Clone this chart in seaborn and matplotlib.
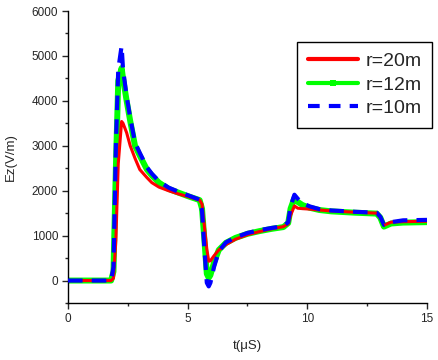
import matplotlib
matplotlib.use("Agg")
import matplotlib.pyplot as plt
from matplotlib.lines import Line2D
import seaborn as sns
import pandas as pd
from matplotlib.ticker import MultipleLocator

t = [0, 1.8, 1.9, 2.0, 2.1, 2.24, 2.3, 2.45, 2.6, 2.8, 3.0, 3.3, 3.5, 3.8, 4.2, 4.6,
     5.0, 5.5, 5.6, 5.7, 5.8, 5.88, 5.95, 6.1, 6.3, 6.6, 7.0, 7.5, 8.0, 8.5, 9.0,
     9.2, 9.3, 9.46, 9.6, 9.8, 10.1, 10.5, 11.0, 12.0, 12.9, 13.05, 13.2, 13.5, 14.0, 15.0]

ez_r20 = [0, 0, 50, 900, 2600, 3540, 3500, 3290, 3000, 2720, 2470, 2290, 2180, 2080, 2000, 1930,
          1870, 1790, 1700, 1200, 700, 430, 440, 550, 680, 800, 920, 1020, 1090, 1150, 1200,
          1260, 1450, 1660, 1610, 1600, 1590, 1570, 1550, 1520, 1500, 1400, 1230, 1300, 1310, 1320]

ez_r12 = [0, 0, 200, 2500, 4450, 4730, 4500, 4000, 3550, 3000, 2780, 2470, 2340, 2180, 2040, 1960,
          1880, 1790, 1600, 900, 150, 60, 120, 400, 680, 840, 950, 1040, 1100, 1150, 1190,
          1280, 1600, 1840, 1750, 1680, 1620, 1570, 1540, 1510, 1490, 1400, 1200, 1270, 1290, 1300]

ez_r10 = [0, 0, 300, 3000, 4700, 5220, 4700, 4100, 3620, 3070, 2840, 2520, 2380, 2210, 2070, 1980,
          1900, 1800, 1550, 700, -50, -130, -50, 300, 650, 850, 960, 1060, 1120, 1170, 1210,
          1300, 1650, 1910, 1820, 1720, 1650, 1590, 1560, 1530, 1510, 1420, 1240, 1300, 1340, 1350]

labels = ["r=20m", "r=12m", "r=10m"]

sns.set_style("ticks")
plt.rcParams["font.family"] = ["Liberation Sans", "DejaVu Sans"]

fig = plt.figure(figsize=(4.39, 3.60), dpi=100)
ax = fig.add_axes([68/439, 1-303/360, (427-68)/439, (303-11)/360])

df20 = pd.DataFrame({"t": t, "Ez": ez_r20})
df12 = pd.DataFrame({"t": t, "Ez": ez_r12})
df10 = pd.DataFrame({"t": t, "Ez": ez_r10})

sns.lineplot(data=df12, x="t", y="Ez", ax=ax, color="#00ff00", lw=4.3, zorder=2, sort=False)
sns.lineplot(data=df20, x="t", y="Ez", ax=ax, color="#ff0000", lw=2.2, zorder=3, sort=False)
sns.lineplot(data=df10, x="t", y="Ez", ax=ax, color="#0000ff", lw=3.0, zorder=4, sort=False)
ax.lines[-1].set_dashes((3.5, 2.2))

ax.set_xlim(0, 15)
ax.set_ylim(-500, 6000)
ax.xaxis.set_major_locator(MultipleLocator(5))
ax.xaxis.set_minor_locator(MultipleLocator(2.5))
ax.yaxis.set_major_locator(MultipleLocator(1000))
ax.yaxis.set_minor_locator(MultipleLocator(500))
ax.tick_params(which="major", direction="out", length=4, width=1, labelsize=8.5, pad=3)
ax.tick_params(which="minor", direction="out", length=2.5, width=1)
sns.despine(ax=ax)
for s in ["left", "bottom"]:
    ax.spines[s].set_linewidth(1)
    ax.spines[s].set_color("black")

ax.set_xlabel("t(μS)", fontsize=9.5, labelpad=11)
ax.set_ylabel("Ez(V/m)", fontsize=9.5, labelpad=11)

handles = [
    Line2D([], [], color="#ff0000", lw=3.0),
    Line2D([], [], color="#00ff00", lw=3.0, marker="s", markersize=4.5, markeredgewidth=0),
    Line2D([], [], color="#0000ff", lw=3.0, dashes=(2.8, 2.2)),
]
leg = ax.legend(handles, labels,
                loc="upper right", bbox_to_anchor=(432/439, 1-42/360),
                bbox_transform=fig.transFigure, borderaxespad=0,
                fontsize=14, frameon=True, fancybox=False, framealpha=1,
                edgecolor="black", handlelength=2.6, handletextpad=0.35,
                labelspacing=0.3, borderpad=0.55, numpoints=1)
leg.get_frame().set_linewidth(1)

fig.savefig("out.png", dpi=100)
